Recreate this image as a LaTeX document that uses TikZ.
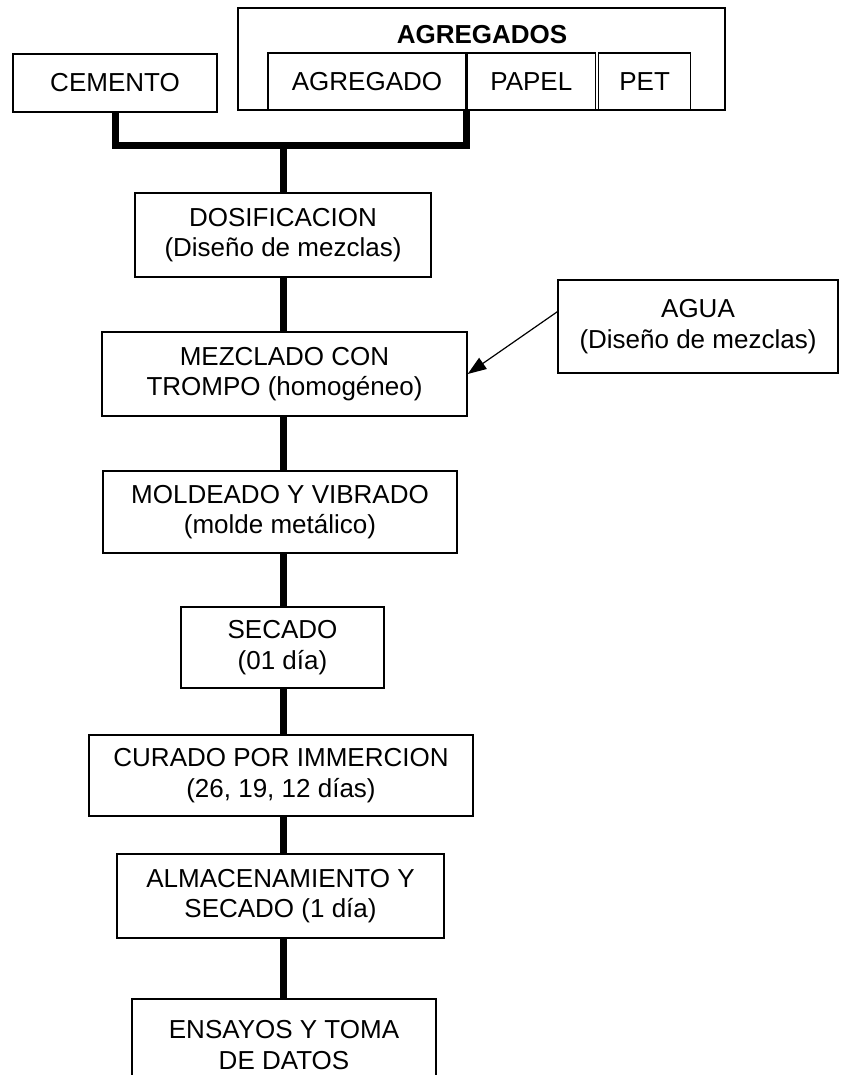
\documentclass[tikz,border=0pt]{standalone}
\usepackage{fontspec}
\setmainfont{Liberation Sans}
\usetikzlibrary{positioning,arrows.meta}

\begin{document}
\begin{tikzpicture}[x=.75pt,y=-.75pt,
	box/.style={draw,line width=1pt,align=center,inner sep=0pt,font=\fontsize{19.5}{23}\selectfont},
	flow/.style={line width=5.25pt}]
				\useasboundingbox (0,0) rectangle (853,1075);
				% materiales
				\node [box,minimum width=153pt,minimum height=43.5pt] (cemento) at (115,83) {CEMENTO};
				\node [box,minimum width=365.25pt,minimum height=76.5pt] (agregados) at (481.5,59) {};
				\node [font=\fontsize{19.5}{23}\selectfont\bfseries] (titulo) at (482,35) {AGREGADOS};
				\node [box,minimum width=148.5pt,minimum height=42.75pt] (agregado) at (367,81.5) {AGREGADO};
				\node [box,minimum width=96pt,minimum height=42.75pt,right = 0pt of agregado] (papel) {PAPEL};
				\node [box,minimum width=69pt,minimum height=42.75pt,right = 1.5pt of papel] (pet) {PET};
				\coordinate (union) at (283,145);
				% proceso
				\node [box,minimum width=222pt,minimum height=63pt] (dosif) at (283,235) {DOSIFICACION\\(Diseño de mezclas)};
				\node [box,minimum width=273.75pt,minimum height=63pt] (mezcla) at (284.5,374) {MEZCLADO CON\\TROMPO (homogéneo)};
				\node [box,minimum width=210pt,minimum height=69.75pt] (agua) at (698,326.5) {AGUA\\(Diseño de mezclas)};
				\node [box,minimum width=265.5pt,minimum height=61.5pt] (moldeo) at (280,512) {MOLDEADO Y VIBRADO\\(molde metálico)};
				\node [box,minimum width=152.25pt,minimum height=60.75pt] (secado) at (282.5,647.5) {SECADO\\(01 día)};
				\node [box,minimum width=288pt,minimum height=60.75pt] (curado) at (281,775.5) {CURADO POR IMMERCION\\(26, 19, 12 días)};
				\node [box,minimum width=245.25pt,minimum height=63pt] (almacen) at (280.5,896) {ALMACENAMIENTO Y\\SECADO (1 día)};
				\node [box,minimum width=228pt,minimum height=69pt] (ensayos) at (284,1045) {ENSAYOS Y TOMA\\DE DATOS};
				% conectores
				\draw [flow] (cemento.south) |- (union) -| (agregado.south east);
				\draw [flow] (union) -- (dosif.north -| union);
				\draw [flow] (dosif.south -| union) -- (mezcla.north -| union);
				\draw [flow] (mezcla.south -| union) -- (moldeo.north -| union);
				\draw [flow] (moldeo.south -| union) -- (secado.north -| union);
				\draw [flow] (secado.south -| union) -- (curado.north -| union);
				\draw [flow] (curado.south -| union) -- (almacen.north -| union);
				\draw [flow] (almacen.south -| union) -- (ensayos.north -| union);
				\draw [-{Triangle[length=14pt,width=10pt]},line width=.9pt] (agua.174) -- (mezcla.east);
			\end{tikzpicture}
\end{document}
